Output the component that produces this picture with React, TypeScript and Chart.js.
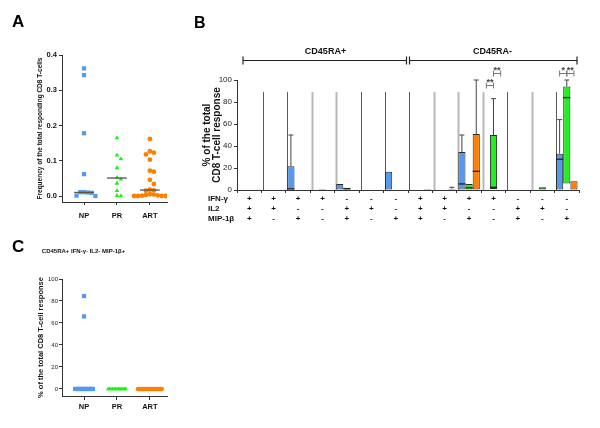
import React, { useEffect, useRef } from 'react';
import { Chart, registerables } from 'chart.js';

Chart.register(...registerables);

const FONT = "'Liberation Sans', Arial, Helvetica, sans-serif";
Chart.defaults.font.family = FONT;

// ---------- Panel A data ----------
const groups = ['NP', 'PR', 'ART'];
const aNP = [0.362, 0.343, 0.178, 0.062, 0.011, 0.010, 0.011, 0.009, 0.001, 0.0];
const aPR = [0.165, 0.116, 0.105, 0.080, 0.052, 0.048, 0.036, 0.015, 0.001, 0.0];
const aART = [0.162, 0.127, 0.123, 0.118, 0.103, 0.072, 0.069, 0.046, 0.034, 0.018, 0.016, 0.015,
  0.005, 0.004, 0.003, 0.002, 0.001, 0.0, 0.0, 0.0, 0.0, 0.0];
const aMedians = [0.010, 0.051, 0.017];
const aTicks = [0, 0.1, 0.2, 0.3, 0.4];

// ---------- Panel B data ----------
const ifn = ['+', '+', '+', '+', '-', '-', '-', '+', '+', '+', '+', '-', '-', '-'];
const il2 = ['+', '+', '-', '-', '+', '+', '-', '+', '+', '-', '-', '+', '+', '-'];
const mip = ['+', '-', '+', '-', '+', '-', '+', '+', '-', '+', '-', '+', '-', '+'];
const rowNames = ['IFN-γ', 'IL2', 'MIP-1β'];
const subsetNames = ['CD45RA+', 'CD45RA-'];

const npLow = [null, null, 0.5, null, 0, null, 0, null, null, 0, null, null, null, 0];
const npHigh = [null, null, 21.5, null, 5.5, null, 16.5, null, null, 34.5, null, null, null, 33];
const npMed = [null, null, 1, null, null, null, null, null, null, 5.5, null, null, null, 28];
const npMax = [null, null, 50, null, null, null, null, null, null, 50, null, null, null, 64];

const prLow = [null, null, null, 0, 0, null, null, null, null, 0, 1, null, 0, 6];
const prHigh = [null, null, null, 0.8, 2, null, null, null, null, 5.5, 50, null, 2.5, 94];
const prMed = [null, null, null, null, 1.2, null, null, null, null, 2, 2.5, null, null, 84];
const prMax = [null, null, null, null, null, null, null, null, null, null, 83, null, null, 100];

const artLow = [null, null, null, null, null, null, null, 0, 0, 0, null, null, null, 0];
const artHigh = [null, null, null, null, null, null, null, 0.8, 1.2, 51, null, null, null, 8];
const artMed = [null, null, null, null, null, null, null, null, null, 17, null, null, null, null];
const artMax = [null, null, null, null, null, null, null, null, 2.5, 100, null, null, null, null];

const spikeTop = [null, 89, 89, 89, 89, 89, 89, 89, 89, 89, 89, 89, 89, 89];
const spikeTone = ['', 'd', 'd', 'l', 'l', 'd', 'd', 'd', 'l', 'l', 'l', 'd', 'l', 'd'];

const sigCats = [10, 10, 13, 13];
const sigFrom = [0, 1, 0, 1];
const sigTo = [1, 2, 1, 2];
const sigLevel = [95.5, 106, 106, 106];
const sigLabel = ['**', '**', '*', '**'];

// ---------- Panel C data ----------
const cNP = [84.5, 66, 0, 0, 0, 0, 0, 0, 0, 0, 0, 0, 0, 0, 0];
const cPR = [0, 0, 0, 0, 0, 0, 0, 0, 0, 0, 0, 0, 0];
const cART = [0, 0, 0, 0, 0, 0, 0, 0, 0, 0, 0, 0, 0, 0, 0, 0, 0];
const cTicks = [0, 20, 40, 60, 80, 100];

const BLUE = '#5599ee';
const GREEN = '#22ee22';
const ORANGE = '#ff7f00';
const AXIS = '#333333';
const CAT_PCT = 0.88;

// deterministic beeswarm layout for dot plots
function swarm(values: number[], center: number, step: number, yTol: number) {
  const placed: { x: number; y: number }[] = [];
  for (const v of values) {
    let k = 0;
    for (;;) {
      const off = k === 0 ? 0 : (k % 2 === 1 ? 1 : -1) * Math.ceil(k / 2) * step;
      const px = center + off;
      const clash = placed.some((p) => Math.abs(p.y - v) < yTol && Math.abs(p.x - px) < step * 0.9);
      if (!clash) {
        placed.push({ x: px, y: v });
        break;
      }
      k++;
    }
  }
  return placed;
}

function configA(): any {
  const medianSets = aMedians.map((m, i) => ({
    type: 'line',
    data: [{ x: i + 1 - 0.3, y: m }, { x: i + 1 + 0.3, y: m }],
    borderColor: '#555',
    borderWidth: 1.3,
    pointRadius: 0,
    showLine: true,
  }));
  return {
    type: 'scatter',
    data: {
      datasets: [
        ...medianSets,
        { data: swarm(aNP, 1, 0.115, 0.012), pointStyle: 'rect', pointRadius: 3, backgroundColor: BLUE, borderColor: BLUE, borderWidth: 0 },
        { data: swarm(aPR, 2, 0.12, 0.012), pointStyle: 'triangle', pointRadius: 2.7, backgroundColor: GREEN, borderColor: GREEN, borderWidth: 0 },
        { data: swarm(aART, 3, 0.12, 0.012), pointStyle: 'circle', pointRadius: 2.4, backgroundColor: ORANGE, borderColor: ORANGE, borderWidth: 0 },
      ],
    },
    options: {
      responsive: false,
      animation: false,
      layout: { padding: { top: 55, right: 23, left: 0, bottom: 0 } },
      plugins: { legend: { display: false }, tooltip: { enabled: false } },
      scales: {
        x: {
          type: 'linear', min: 0.33, max: 3.52,
          afterFit: (s: any) => { s.height = 38; },
          afterBuildTicks: (s: any) => { s.ticks = [1, 2, 3].map((v) => ({ value: v })); },
          ticks: { callback: (v: any) => groups[Math.round(v) - 1], font: { size: 7.5, weight: 'bold' }, color: '#111', padding: 6, autoSkip: false, maxRotation: 0 },
          grid: { drawOnChartArea: false, tickLength: 3, color: AXIS },
          border: { color: AXIS, width: 1 },
        },
        y: {
          min: -0.017, max: 0.4,
          afterFit: (s: any) => { s.width = 62; },
          afterBuildTicks: (s: any) => { s.ticks = aTicks.map((v) => ({ value: v })); },
          ticks: { callback: (v: any) => Number(v).toFixed(1), font: { size: 7.5, weight: 'bold' }, color: '#111', padding: 2 },
          grid: { drawOnChartArea: false, tickLength: 3, color: AXIS },
          border: { color: AXIS, width: 1 },
          title: { display: true, text: 'Frequency of the total responding CD8 T-cells', font: { size: 6.5, weight: 'bold' }, color: '#111', padding: { top: 36, bottom: 0 } },
        },
      },
    },
  };
}

function configB(): any {
  const pairs = (lo: (number | null)[], hi: (number | null)[]) =>
    lo.map((l, i) => (l == null || hi[i] == null ? null : [l, hi[i] as number]));
  const series = [
    { med: npMed, max: npMax },
    { med: prMed, max: prMax },
    { med: artMed, max: artMax },
  ];
  const plugin = {
    id: 'boxDecor',
    beforeDatasetsDraw(chart: any) {
      const { ctx, scales: { x, y } } = chart;
      const cw = x.width / ifn.length;
      ctx.save();
      spikeTop.forEach((v, i) => {
        if (v == null) return;
        const left = Math.round(x.getPixelForValue(i) - (cw * CAT_PCT) / 2) + 0.5;
        const light = spikeTone[i] === 'l';
        ctx.strokeStyle = light ? '#b8b8b8' : '#5a5a5a';
        ctx.lineWidth = light ? 2 : 1;
        ctx.beginPath();
        ctx.moveTo(left, y.getPixelForValue(0));
        ctx.lineTo(left, y.getPixelForValue(v));
        ctx.stroke();
      });
      ctx.restore();
    },
    afterDatasetsDraw(chart: any) {
      const { ctx, scales: { x, y }, chartArea } = chart;
      const cw = x.width / ifn.length;
      const bw = (cw * CAT_PCT) / 3;
      ctx.save();
      // medians and whiskers
      series.forEach((s, di) => {
        const meta = chart.getDatasetMeta(di);
        const raw = chart.data.datasets[di].data;
        meta.data.forEach((bar: any, i: number) => {
          if (raw[i] == null) return;
          const p = bar.getProps(['x', 'y', 'base', 'width'], true);
          const top = Math.min(p.y, p.base);
          if (s.max[i] != null) {
            const ym = y.getPixelForValue(s.max[i]);
            ctx.strokeStyle = '#444';
            ctx.lineWidth = 1;
            ctx.beginPath();
            ctx.moveTo(p.x, top);
            ctx.lineTo(p.x, ym);
            ctx.moveTo(p.x - 2.5, ym);
            ctx.lineTo(p.x + 2.5, ym);
            ctx.stroke();
          }
          if (s.med[i] != null) {
            const yy = y.getPixelForValue(s.med[i]);
            ctx.strokeStyle = '#222';
            ctx.lineWidth = 1.3;
            ctx.beginPath();
            ctx.moveTo(p.x - p.width / 2, yy);
            ctx.lineTo(p.x + p.width / 2, yy);
            ctx.stroke();
          }
        });
      });
      // significance brackets
      ctx.font = `bold 9px ${FONT}`;
      ctx.textAlign = 'center';
      ctx.textBaseline = 'bottom';
      sigCats.forEach((cat, k) => {
        const gl = x.getPixelForValue(cat) - (cw * CAT_PCT) / 2;
        const x1 = gl + (sigFrom[k] + 0.5) * bw;
        const x2 = gl + (sigTo[k] + 0.5) * bw;
        const yy = Math.round(y.getPixelForValue(sigLevel[k])) + 0.5;
        ctx.strokeStyle = '#777';
        ctx.lineWidth = 1;
        ctx.beginPath();
        ctx.moveTo(x1, yy); ctx.lineTo(x2, yy);
        ctx.moveTo(x1, yy - 3); ctx.lineTo(x1, yy + 3);
        ctx.moveTo(x2, yy - 3); ctx.lineTo(x2, yy + 3);
        ctx.stroke();
        ctx.fillStyle = '#444';
        ctx.fillText(sigLabel[k], (x1 + x2) / 2, yy + 2);
      });
      // subset brackets
      const yb = Math.round(chartArea.top - 20) + 0.5;
      const xl = x.left + 6;
      const xm = x.left + 7 * cw;
      const xr = x.right - 2;
      ctx.strokeStyle = '#222';
      ctx.lineWidth = 1.2;
      ctx.beginPath();
      ctx.moveTo(xl, yb); ctx.lineTo(xm - 1.5, yb);
      ctx.moveTo(xm + 1.5, yb); ctx.lineTo(xr, yb);
      [xl, xm - 1.5, xm + 1.5, xr].forEach((xx) => { ctx.moveTo(xx, yb - 4); ctx.lineTo(xx, yb + 4); });
      ctx.stroke();
      ctx.fillStyle = '#111';
      ctx.font = `bold 9px ${FONT}`;
      ctx.textBaseline = 'middle';
      ctx.fillText(subsetNames[0], (xl + xm) / 2, yb - 9);
      ctx.fillText(subsetNames[1], (xm + xr) / 2, yb - 9);
      // row labels of the +/- table
      ctx.textAlign = 'left';
      ctx.font = `bold 8px ${FONT}`;
      rowNames.forEach((n, j) => {
        ctx.fillText(n, 18, x.top + 3 + 1 + 5 + j * 10);
      });
      ctx.restore();
    },
  };
  return {
    type: 'bar',
    data: {
      labels: ifn.map((_, i) => [ifn[i], il2[i], mip[i]]),
      datasets: [
        { data: pairs(npLow, npHigh), backgroundColor: BLUE },
        { data: pairs(prLow, prHigh), backgroundColor: GREEN },
        { data: pairs(artLow, artHigh), backgroundColor: ORANGE },
      ].map((d) => ({ ...d, borderColor: '#2a2a2a', borderWidth: 1, borderSkipped: false, categoryPercentage: CAT_PCT, barPercentage: 1 })),
    },
    options: {
      responsive: false,
      animation: false,
      layout: { padding: { top: 80, right: 21, left: 0, bottom: 0 } },
      plugins: { legend: { display: false }, tooltip: { enabled: false } },
      scales: {
        x: {
          afterFit: (s: any) => { s.height = 50; },
          ticks: { font: { size: 8, weight: 'bold', lineHeight: 1.25 }, color: '#111', padding: 1, autoSkip: false, maxRotation: 0 },
          grid: { drawOnChartArea: false, tickLength: 3, color: AXIS, offset: true },
          border: { color: AXIS, width: 1 },
        },
        y: {
          min: 0, max: 100,
          afterFit: (s: any) => { s.width = 47; },
          ticks: { stepSize: 20, font: { size: 8 }, color: '#222', padding: 2 },
          grid: { drawOnChartArea: false, tickLength: 3, color: AXIS },
          border: { color: AXIS, width: 1 },
          title: { display: true, text: ['% of the total', 'CD8 T-cell response'], font: { size: 10, weight: 'bold', lineHeight: 1.05 }, color: '#111', padding: { top: 11.75, bottom: 0 } },
        },
      },
    },
    plugins: [plugin],
  };
}

function configC(): any {
  return {
    type: 'scatter',
    data: {
      datasets: [
        { data: swarm(cNP, 1, 0.045, 3), pointStyle: 'rect', pointRadius: 3, backgroundColor: BLUE, borderColor: BLUE, borderWidth: 0 },
        { data: swarm(cPR, 2, 0.045, 3), pointStyle: 'triangle', pointRadius: 2.4, backgroundColor: GREEN, borderColor: GREEN, borderWidth: 0 },
        { data: swarm(cART, 3, 0.045, 3), pointStyle: 'circle', pointRadius: 2.3, backgroundColor: ORANGE, borderColor: ORANGE, borderWidth: 0 },
      ],
    },
    options: {
      responsive: false,
      animation: false,
      layout: { padding: { top: 0, right: 23, left: 0, bottom: 0 } },
      plugins: {
        legend: { display: false },
        tooltip: { enabled: false },
        title: { display: true, text: 'CD45RA+ IFN-γ- IL2- MIP-1β+', font: { size: 6, weight: 'bold' }, color: '#111', padding: { top: 8, bottom: 23.8 } },
      },
      scales: {
        x: {
          type: 'linear', min: 0.33, max: 3.52,
          afterFit: (s: any) => { s.height = 32; },
          afterBuildTicks: (s: any) => { s.ticks = [1, 2, 3].map((v) => ({ value: v })); },
          ticks: { callback: (v: any) => groups[Math.round(v) - 1], font: { size: 7.5, weight: 'bold' }, color: '#111', padding: 2.5, autoSkip: false, maxRotation: 0 },
          grid: { drawOnChartArea: false, tickLength: 4, color: AXIS },
          border: { color: AXIS, width: 1 },
        },
        y: {
          min: -6.4, max: 100,
          afterFit: (s: any) => { s.width = 62; },
          afterBuildTicks: (s: any) => { s.ticks = cTicks.map((v) => ({ value: v })); },
          ticks: { font: { size: 6 }, color: '#222', padding: 1 },
          grid: { drawOnChartArea: false, tickLength: 3, color: AXIS },
          border: { color: AXIS, width: 1 },
          title: { display: true, text: '% of the total CD8 T-cell response', font: { size: 7.5, weight: 'bold' }, color: '#111', padding: { top: 36.5, bottom: 0 } },
        },
      },
    },
  };
}

export default function App() {
  const aRef = useRef<HTMLCanvasElement>(null);
  const bRef = useRef<HTMLCanvasElement>(null);
  const cRef = useRef<HTMLCanvasElement>(null);

  useEffect(() => {
    const charts = [
      new Chart(aRef.current as HTMLCanvasElement, configA()),
      new Chart(bRef.current as HTMLCanvasElement, configB()),
      new Chart(cRef.current as HTMLCanvasElement, configC()),
    ];
    return () => charts.forEach((c) => c.destroy());
  }, []);

  const letter = (t: string, left: number, top: number, size: number) => (
    <div style={{ position: 'absolute', left, top, fontFamily: FONT, fontWeight: 'bold', fontSize: size, lineHeight: `${size}px`, color: '#000' }}>{t}</div>
  );

  return (
    <div style={{ position: 'absolute', left: 0, top: 0, width: 600, height: 428, background: '#fff', overflow: 'hidden' }}>
      <canvas ref={aRef} width={190} height={240} style={{ position: 'absolute', left: 0, top: 0 }} />
      <canvas ref={bRef} width={410} height={240} style={{ position: 'absolute', left: 190, top: 0 }} />
      <canvas ref={cRef} width={190} height={188} style={{ position: 'absolute', left: 0, top: 240 }} />
      {letter('A', 12, 13, 17)}
      {letter('B', 194, 15, 16)}
      {letter('C', 12, 238, 17)}
    </div>
  );
}
